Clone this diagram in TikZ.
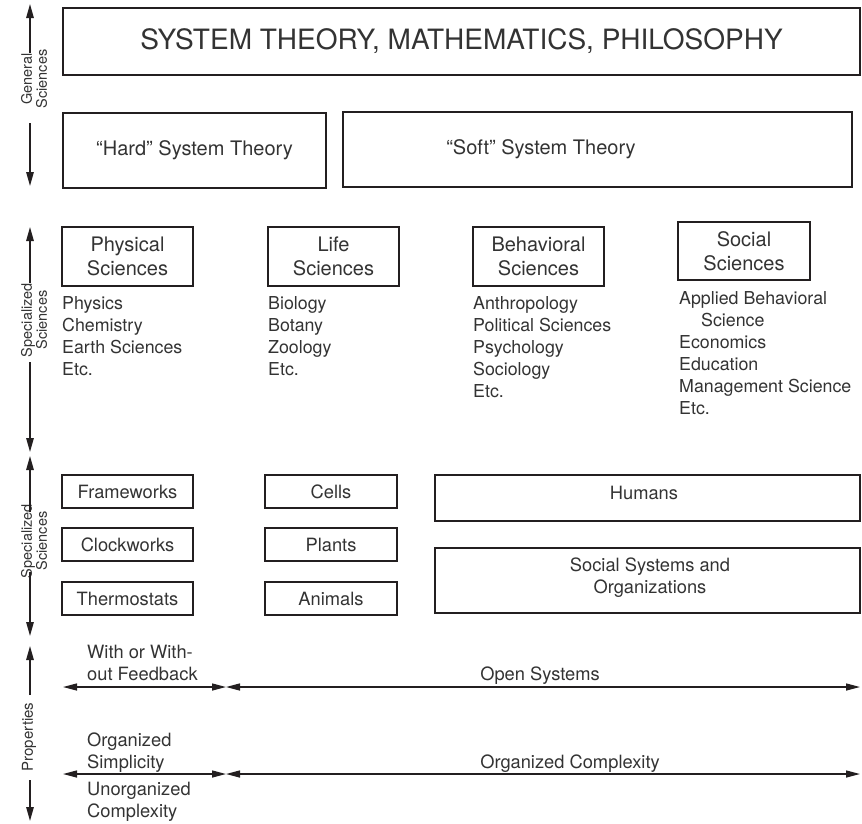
\documentclass[tikz,border=0pt]{standalone}
\usepackage{fontspec}
\setmainfont{TeX Gyre Heros}
\usetikzlibrary{arrows.meta}
\definecolor{ink}{HTML}{231F20}
\definecolor{textgray}{HTML}{333333}
\begin{document}
\begin{tikzpicture}[x=1pt,y=-1pt,
  body/.style={text=textgray, inner sep=0pt, font=\fontsize{17.8}{22}\selectfont},
  head/.style={font=\fontsize{20}{24.5}\selectfont},
  small/.style={font=\fontsize{18.3}{22}\selectfont},
  listtxt/.style={body, anchor=north west, align=left},
  box/.style={draw=ink, line width=1.8pt, inner sep=0pt, body, align=center},
  side/.style={text=textgray, inner sep=0pt, rotate=90, align=center, font=\fontsize{14.5}{15}\selectfont},
  axis/.style={draw=ink, line width=1.4pt, -{Triangle[length=14pt,width=7.5pt]}},
  span/.style={draw=ink, line width=1.4pt, {Triangle[length=14pt,width=7pt]}-{Triangle[length=14pt,width=7pt]}},
]
\useasboundingbox (0,0) rectangle (862,823);

% ---- general sciences ----
\node[box, minimum width=797pt, minimum height=67pt, font=\fontsize{28}{30}\selectfont] (top) at (461.5,41.5)
  {SYSTEM THEORY, MATHEMATICS, PHILOSOPHY};
\node[box, head, minimum width=263pt, minimum height=75pt] (hard) at (194.5,150.5) {“Hard” System Theory};
\node[box, minimum width=509pt, minimum height=75pt] (soft) at (597.5,149.5) {};
\node[body, head] (softtxt) at (541,149.5) {“Soft” System Theory};

% ---- specialized sciences: disciplines ----
\node[box, head, minimum width=131pt, minimum height=59pt] (phys) at (127.5,256.5) {Physical\\Sciences};
\node[box, head, minimum width=131pt, minimum height=59pt] (life) at (333.5,256.5) {Life\\Sciences};
\node[box, head, minimum width=131pt, minimum height=59pt] (behav) at (538.5,256.5) {Behavioral\\Sciences};
\node[box, head, minimum width=132pt, minimum height=58pt] (soc) at (744,251) {Social\\Sciences};

\node[listtxt] (physlist) at (62,296) {Physics\\Chemistry\\Earth Sciences\\Etc.};
\node[listtxt] (lifelist) at (268,296) {Biology\\Botany\\Zoology\\Etc.};
\node[listtxt] (behavlist) at (473,296) {Anthropology\\Political Sciences\\Psychology\\Sociology\\Etc.};
\node[listtxt] (soclist) at (679,291) {Applied Behavioral\\\hspace*{22pt}Science\\Economics\\Education\\Management Science\\Etc.};

% ---- specialized sciences: systems ----
\node[box, small, minimum width=131pt, minimum height=33pt] (frame) at (127.5,491.5) {Frameworks};
\node[box, small, minimum width=131pt, minimum height=33pt] (clock) at (127.5,544.5) {Clockworks};
\node[box, small, minimum width=131pt, minimum height=33pt] (thermo) at (127.5,598.5) {Thermostats};
\node[box, small, minimum width=132pt, minimum height=33pt] (cells) at (331,491.5) {Cells};
\node[box, small, minimum width=132pt, minimum height=33pt] (plants) at (331,544.5) {Plants};
\node[box, small, minimum width=132pt, minimum height=33pt] (animals) at (331,598.5) {Animals};
\node[box, minimum width=425pt, minimum height=46pt] (humans) at (647.5,498) {};
\node[body, small] (humtxt) at (644,493) {Humans};
\node[box, minimum width=425pt, minimum height=65pt] (socsys) at (647.5,580.5) {};
\node[body, small, align=center] (socsystxt) at (650,578) {Social Systems and\\Organizations};

% ---- properties ----
\coordinate (f0) at (63,687);
\coordinate (f1) at (226,687);
\coordinate (f2) at (860,687);
\draw[span] (f0) -- (f1);
\draw[span] (f1) -- (f2);
\node[body, small, anchor=base west, align=left] (feedtxt) at (87,680) {With or With-\\out Feedback};
\node[body, small, anchor=base] (opentxt) at (540,680) {Open Systems};

\coordinate (c0) at (63,774);
\coordinate (c1) at (226,774);
\coordinate (c2) at (860,774);
\draw[span] (c0) -- (c1);
\draw[span] (c1) -- (c2);
\node[body, small, anchor=base west, align=left] (simptxt) at (87,768) {Organized\\Simplicity};
\node[body, small, anchor=base west, align=left] (unorgtxt) at (87,817) {Unorganized\\Complexity};
\node[body, small, anchor=base] (orgcomptxt) at (570,768) {Organized Complexity};

% ---- left axis ----
\node[side] (lgen) at (34,79) {General\\Sciences};
\coordinate (g0) at (30,53);  \coordinate (g1) at (30,4);
\coordinate (g2) at (30,123); \coordinate (g3) at (30,186);
\draw[axis] (g0) -- (g1);
\draw[axis] (g2) -- (g3);

\node[side] (lspec1) at (34,320) {Specialized\\Sciences};
\coordinate (s0) at (30,283); \coordinate (s1) at (30,227);
\coordinate (s2) at (30,362); \coordinate (s3) at (30,452);
\draw[axis] (s0) -- (s1);
\draw[axis] (s2) -- (s3);

\node[side] (lspec2) at (34,541) {Specialized\\Sciences};
\coordinate (t0) at (30,512); \coordinate (t1) at (30,456);
\coordinate (t2) at (30,572); \coordinate (t3) at (30,636);
\draw[axis] (t0) -- (t1);
\draw[axis] (t2) -- (t3);

\node[side, font=\fontsize{15}{16}\selectfont] (lprop) at (29,737) {Properties};
\coordinate (p0) at (30,695); \coordinate (p1) at (30,646);
\coordinate (p2) at (30,780); \coordinate (p3) at (30,821);
\draw[axis] (p0) -- (p1);
\draw[axis] (p2) -- (p3);
\end{tikzpicture}
\end{document}
